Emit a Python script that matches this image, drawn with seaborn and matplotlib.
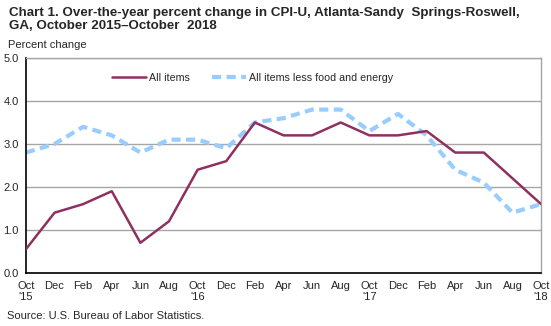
import matplotlib
matplotlib.use("Agg")
import matplotlib.pyplot as plt
import seaborn as sns
import pandas as pd
from matplotlib.lines import Line2D

tick_labels = ["Oct\n'15", "Dec", "Feb", "Apr", "Jun", "Aug",
               "Oct\n'16", "Dec", "Feb", "Apr", "Jun", "Aug",
               "Oct\n'17", "Dec", "Feb", "Apr", "Jun", "Aug",
               "Oct\n'18"]
all_items = [0.55, 1.4, 1.6, 1.9, 0.7, 1.2, 2.4, 2.6, 3.5, 3.2, 3.2, 3.5,
             3.2, 3.2, 3.3, 2.8, 2.8, 2.2, 1.6]
core = [2.8, 3.0, 3.4, 3.2, 2.8, 3.1, 3.1, 2.9, 3.5, 3.6, 3.8, 3.8,
        3.3, 3.7, 3.2, 2.4, 2.1, 1.4, 1.6]
series_names = ["All items", "All items less food and energy"]

sns.set_theme(style="white")
plt.rcParams["font.family"] = ["Liberation Sans", "DejaVu Sans"]

idx = list(range(len(all_items)))
df = pd.DataFrame({
    "idx": idx * 2,
    "value": all_items + core,
    "series": [series_names[0]] * len(idx) + [series_names[1]] * len(idx),
})

fig = plt.figure(figsize=(5.51, 3.26), dpi=100)
ax = fig.add_axes([0.047, 0.163, 0.935, 0.659])

c1, c2 = "#8E3160", "#99CCFF"
palette = {series_names[0]: c1, series_names[1]: c2}
sns.lineplot(data=df, x="idx", y="value", hue="series", style="series",
             palette=palette, dashes={series_names[0]: "", series_names[1]: (2.2, 1.3)},
             ax=ax, legend=False)
lines = ax.get_lines()
lines[0].set_linewidth(1.8)
lines[1].set_linewidth(3.0)
lines[1].set_zorder(2)
lines[0].set_zorder(3)

ax.set_xlim(0, len(idx) - 1)
ax.set_ylim(0, 5)
ax.set_yticks([0, 1, 2, 3, 4, 5])
ax.set_yticklabels([f"{v:.1f}" for v in [0, 1, 2, 3, 4, 5]], fontsize=8)
ax.set_xticks(idx)
ax.set_xticklabels(tick_labels, fontsize=8, linespacing=1.15, va="top")
ax.set_xlabel("")
ax.set_ylabel("")
ax.grid(axis="y", color="#A6A6A6", linewidth=1.0)
ax.set_axisbelow(True)
ax.tick_params(axis="x", direction="out", length=4, width=1, color="black", pad=2)
ax.tick_params(axis="y", direction="out", length=3, width=1, color="black", pad=2)
for s in ["top", "right"]:
    ax.spines[s].set_color("#A6A6A6")
    ax.spines[s].set_linewidth(1.0)
for s in ["left", "bottom"]:
    ax.spines[s].set_color("black")
    ax.spines[s].set_linewidth(1.2)

handles = [Line2D([], [], color=c1, lw=1.8),
           Line2D([], [], color=c2, lw=3.0, dashes=(2.2, 1.3))]
ax.legend(handles, series_names, loc="upper center", bbox_to_anchor=(0.44, 0.975),
          ncol=2, frameon=False, fontsize=7.7, handlelength=3.2,
          handletextpad=0.3, columnspacing=2.0)

fig.text(0.016, 0.978, "Chart 1. Over-the-year percent change in CPI-U, Atlanta-Sandy  Springs-Roswell,\nGA, October 2015\u2013October  2018",
         fontsize=9.6, fontweight="bold", va="top", ha="left", linespacing=1.05)
fig.text(0.014, 0.862, "Percent change", fontsize=8, va="center", ha="left")
fig.text(0.012, 0.03, "Source: U.S. Bureau of Labor Statistics.", fontsize=8, va="center", ha="left")

fig.savefig("out.png", dpi=100)
